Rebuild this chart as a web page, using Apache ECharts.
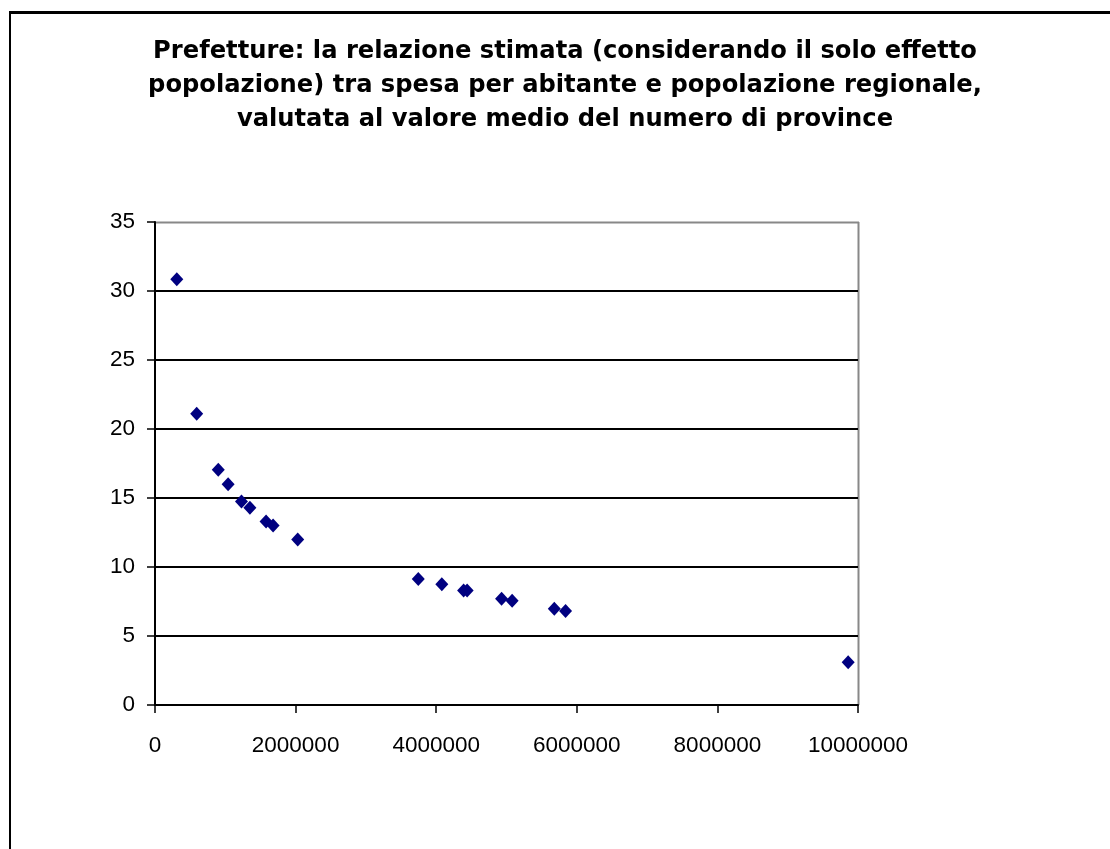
<!DOCTYPE html>
<html>
<head>
<meta charset="utf-8">
<script src="https://cdn.jsdelivr.net/npm/echarts@6/dist/echarts.min.js"></script>
<style>html,body{margin:0;padding:0;background:#fff;}#chart{width:1110px;height:849px;}</style>
</head>
<body>
<div id="chart"></div>
<script>
var titleText = "Prefetture: la relazione stimata (considerando il solo effetto\npopolazione) tra spesa per abitante e popolazione regionale,\nvalutata al valore medio del numero di province";
var popolazione = [310000, 593000, 900000, 1040000, 1230000, 1350000, 1580000, 1680000, 2030000, 3745000, 4080000, 4390000, 4440000, 4930000, 5080000, 5680000, 5840000, 9860000];
var spesa = [30.85, 21.1, 17.05, 16.0, 14.75, 14.3, 13.3, 13.0, 12.0, 9.13, 8.75, 8.3, 8.3, 7.7, 7.55, 6.97, 6.82, 3.1];
var xTicks = [0, 2000000, 4000000, 6000000, 8000000, 10000000];
var yTicks = [0, 5, 10, 15, 20, 25, 30, 35];

var points = popolazione.map(function (p, i) { return [p, spesa[i]]; });
var chart = echarts.init(document.getElementById('chart'));
chart.setOption({
  backgroundColor: '#fff',
  animation: false,
  title: {
    text: titleText,
    left: 565,
    textAlign: 'center',
    top: 35,
    padding: 0,
    textStyle: { fontFamily: 'DejaVu Sans', fontWeight: 'bold', fontSize: 24.2, lineHeight: 34, color: '#000' }
  },
  graphic: [
    { type: 'line', shape: { x1: 10, y1: 12.5, x2: 1110, y2: 12.5 }, style: { stroke: '#000', lineWidth: 3 } },
    { type: 'line', shape: { x1: 10, y1: 11, x2: 10, y2: 849 }, style: { stroke: '#000', lineWidth: 2 } },
    { type: 'line', shape: { x1: 858.5, y1: 222, x2: 858.5, y2: 705 }, style: { stroke: '#888', lineWidth: 2 }, z: 0 },
    { type: 'line', shape: { x1: 155, y1: 222.5, x2: 859, y2: 222.5 }, style: { stroke: '#888', lineWidth: 2 }, z: 0 }
  ],
  grid: { left: 155, right: 252, top: 222, bottom: 144, show: false },
  xAxis: {
    type: 'value', min: xTicks[0], max: xTicks[xTicks.length - 1], interval: 2000000,
    axisLine: { show: true, onZero: false, lineStyle: { color: '#000', width: 2 } },
    axisTick: { show: true, length: 8, lineStyle: { color: '#000', width: 1.5 } },
    axisLabel: { margin: 29, fontFamily: 'Liberation Sans', fontSize: 22.5, color: '#000', formatter: function (v) { return String(v); } },
    splitLine: { show: false }
  },
  yAxis: {
    type: 'value', min: yTicks[0], max: yTicks[yTicks.length - 1], interval: 5,
    axisLine: { show: true, onZero: false, lineStyle: { color: '#000', width: 2 } },
    axisTick: { show: true, length: 8, lineStyle: { color: '#000', width: 1.5 } },
    axisLabel: { margin: 20, fontFamily: 'Liberation Sans', fontSize: 22.5, color: '#000' },
    splitLine: { show: true, lineStyle: { color: ['#000', '#000', '#000', '#000', '#000', '#000', '#000', 'rgba(0,0,0,0)'], width: 2 } }
  },
  series: [{
    type: 'scatter',
    data: points,
    symbol: 'diamond',
    symbolSize: [13, 14],
    itemStyle: { color: '#000080', opacity: 1 },
    z: 5
  }]
});
</script>
</body>
</html>
